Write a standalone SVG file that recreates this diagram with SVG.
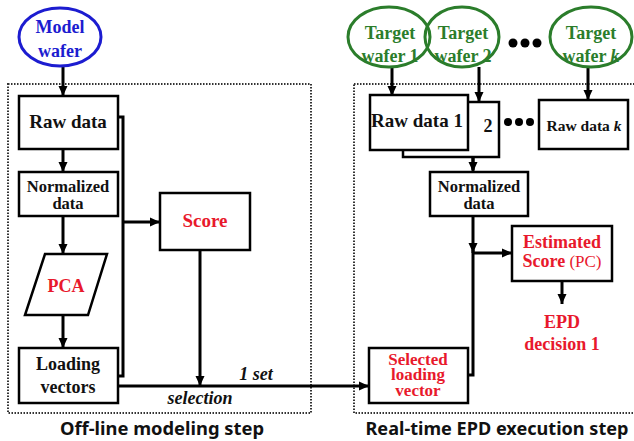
<svg xmlns="http://www.w3.org/2000/svg" width="634" height="441" viewBox="0 0 634 441">
<defs>
<marker id="ah" markerUnits="userSpaceOnUse" markerWidth="10" markerHeight="10" viewBox="0 0 10 10" refX="10" refY="5" orient="auto">
<path d="M0,0.5 L10,5 L0,9.5 Z" fill="#000"/>
</marker>
<style>
.box{fill:#fff;stroke:#000;stroke-width:2.5}
.frame{fill:none;stroke:#333;stroke-width:2;stroke-dasharray:1.5 1.5}
.t{font-family:"Liberation Serif","Times New Roman",serif;font-weight:bold;font-size:18px;text-anchor:middle;fill:#111}
.red{fill:#e8192c}
.blue{fill:#1c1cd0}
.green{fill:#2b7d2b}
.it{font-style:italic}
.lab{font-family:"Noto Sans","DejaVu Sans",sans-serif;font-weight:bold;font-size:18px;text-anchor:middle;fill:#111}
.ln{fill:none;stroke:#000;stroke-width:3}
.ar{fill:none;stroke:#000;stroke-width:3;marker-end:url(#ah)}
</style>
</defs>
<rect width="634" height="441" fill="#fff"/>

<g id="frames">
<rect class="frame" x="8" y="84" width="303" height="329"/>
<rect class="frame" x="354" y="84" width="290" height="329"/>
</g>

<g id="connectors">
<line class="ar" x1="63" y1="67" x2="63" y2="96"/>
<line class="ar" x1="63" y1="149" x2="63" y2="172"/>
<line class="ar" x1="63" y1="216" x2="63" y2="254"/>
<line class="ar" x1="63" y1="315" x2="63" y2="348"/>
<polyline class="ln" points="118,117 123,117 123,376 118,376"/>
<line class="ar" x1="123" y1="222" x2="160" y2="222"/>
<line class="ar" x1="200" y1="250" x2="200" y2="386"/>
<line class="ar" x1="118" y1="386" x2="369" y2="386"/>
<line class="ar" x1="392" y1="67" x2="392" y2="96"/>
<line class="ar" x1="479" y1="67" x2="479" y2="102"/>
<line class="ar" x1="588" y1="67" x2="588" y2="100"/>
<polyline class="ln" points="468,117 473,117 473,170"/>
<line class="ar" x1="473" y1="150" x2="473" y2="172"/>
<line class="ar" x1="473" y1="216" x2="473" y2="253"/>
<polyline class="ln" points="468,375 473,375 473,250"/>
<line class="ar" x1="473" y1="253" x2="512" y2="253"/>
<line class="ar" x1="562" y1="281" x2="562" y2="304"/>
</g>

<g id="model-wafer">
<ellipse cx="60" cy="37" rx="41" ry="29" fill="#fff" stroke="#1c1cd0" stroke-width="3"/>
<text class="t blue" x="60" y="33">Model</text>
<text class="t blue" x="60" y="57">wafer</text>
</g>

<g id="raw-data">
<rect class="box" x="19" y="96" width="99" height="53"/>
<text class="t" x="68" y="128" style="font-size:19px">Raw data</text>
</g>

<g id="normalized-left">
<rect class="box" x="19" y="172" width="99" height="44"/>
<text class="t" x="68" y="192" style="font-size:16.5px">Normalized</text>
<text class="t" x="68" y="209" style="font-size:16.5px">data</text>
</g>

<g id="pca">
<polygon points="45,254 107,254 88,315 25,315" fill="#fff" stroke="#000" stroke-width="2.5"/>
<text class="t red" x="66" y="292">PCA</text>
</g>

<g id="loading-vectors">
<rect class="box" x="19" y="348" width="99" height="55"/>
<text class="t" x="68" y="370">Loading</text>
<text class="t" x="68" y="393">vectors</text>
</g>

<g id="score">
<rect class="box" x="160" y="193" width="90" height="57"/>
<text class="t red" x="205" y="227" style="font-size:19px">Score</text>
</g>

<g id="edge-labels">
<text class="t it" x="256" y="380">1 set</text>
<text class="t it" x="200" y="404">selection</text>
</g>

<g id="target-wafer-1">
<ellipse cx="389" cy="37" rx="41" ry="30" fill="#fff" stroke="#2b7d2b" stroke-width="3"/>
<text class="t green" x="390" y="39">Target</text>
<text class="t green" x="390" y="62">wafer 1</text>
</g>

<g id="target-wafer-2">
<ellipse cx="462" cy="37" rx="37" ry="30" fill="none" stroke="#2b7d2b" stroke-width="3"/>
<text class="t green" x="463" y="39">Target</text>
<text class="t green" x="463" y="62">wafer 2</text>
</g>

<g id="dots-top">
<circle cx="513" cy="43" r="4.5" fill="#000"/>
<circle cx="525" cy="43" r="4.5" fill="#000"/>
<circle cx="537" cy="43" r="4.5" fill="#000"/>
</g>

<g id="target-wafer-k">
<ellipse cx="591" cy="37" rx="41" ry="30" fill="#fff" stroke="#2b7d2b" stroke-width="3"/>
<text class="t green" x="591" y="39">Target</text>
<text class="t green" x="591" y="62">wafer <tspan font-style="italic">k</tspan></text>
</g>

<g id="raw-data-2">
<rect class="box" x="403" y="102" width="96" height="55"/>
<text class="t" x="488" y="132">2</text>
</g>

<g id="raw-data-1">
<rect class="box" x="370" y="95" width="98" height="55"/>
<text class="t" x="417" y="127" style="font-size:19px">Raw data 1</text>
</g>

<g id="dots-mid">
<circle cx="508" cy="122" r="4" fill="#000"/>
<circle cx="519" cy="122" r="4" fill="#000"/>
<circle cx="530" cy="122" r="4" fill="#000"/>
</g>

<g id="raw-data-k">
<rect class="box" x="539" y="100" width="89" height="49"/>
<text class="t" x="584" y="131" style="font-size:15.5px">Raw data <tspan font-style="italic">k</tspan></text>
</g>

<g id="normalized-right">
<rect class="box" x="430" y="172" width="98" height="44"/>
<text class="t" x="479" y="192" style="font-size:16.5px">Normalized</text>
<text class="t" x="479" y="209" style="font-size:16.5px">data</text>
</g>

<g id="estimated-score">
<rect class="box" x="512" y="226" width="100" height="55"/>
<text class="t red" x="562" y="248">Estimated</text>
<text class="t red" x="562" y="267">Score<tspan font-weight="normal" font-size="17px"> (PC)</tspan></text>
</g>

<g id="epd-decision">
<text class="t red" x="562" y="328">EPD</text>
<text class="t red" x="562" y="350">decision 1</text>
</g>

<g id="selected-loading-vector">
<rect class="box" x="369" y="348" width="99" height="55"/>
<text class="t red" x="418" y="365" style="font-size:17px">Selected</text>
<text class="t red" x="418" y="380" style="font-size:17px">loading</text>
<text class="t red" x="418" y="396" style="font-size:17px">vector</text>
</g>

<g id="step-labels">
<text class="lab" x="162" y="435" textLength="204" lengthAdjust="spacingAndGlyphs">Off-line modeling step</text>
<text class="lab" x="497" y="435" textLength="263" lengthAdjust="spacingAndGlyphs">Real-time EPD execution step</text>
</g>
</svg>
